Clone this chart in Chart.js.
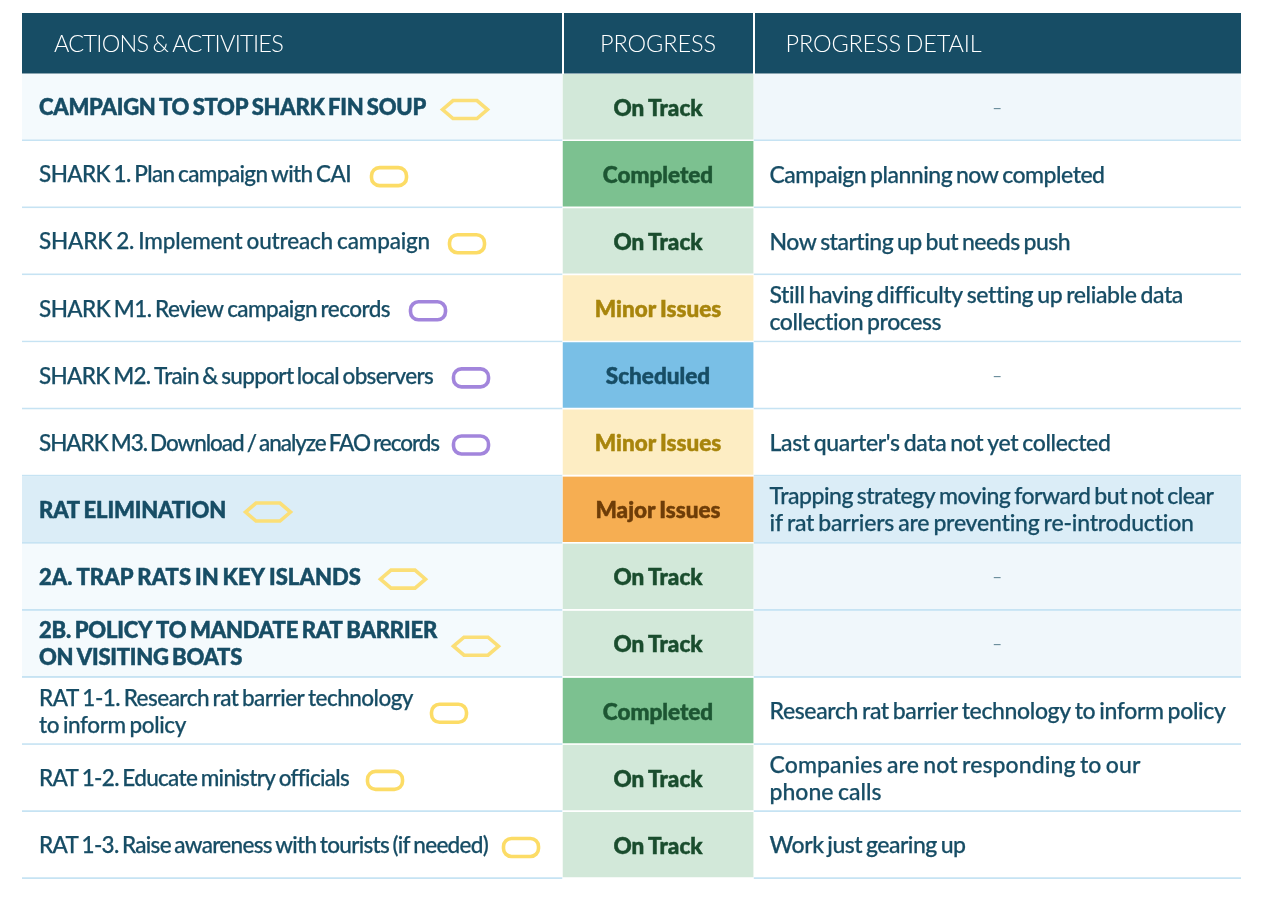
<!DOCTYPE html>
<html>
<head>
<meta charset="utf-8">
<script src="https://cdn.jsdelivr.net/npm/chart.js@4"></script>
<style>
    html, body { margin: 0; background: #fff; }
</style>
</head>
<body>
<canvas id="myChart" width="1261" height="897"></canvas>
<script>
const headers = ['ACTIONS & ACTIVITIES', 'PROGRESS', 'PROGRESS DETAIL'];

const actions = [
    'CAMPAIGN TO STOP SHARK FIN SOUP',
    'SHARK 1. Plan campaign with CAI',
    'SHARK 2. Implement outreach campaign',
    'SHARK M1. Review campaign records',
    'SHARK M2. Train & support local observers',
    'SHARK M3. Download / analyze FAO records',
    'RAT ELIMINATION',
    '2A. TRAP RATS IN KEY ISLANDS',
    '2B. POLICY TO MANDATE RAT BARRIER\nON VISITING BOATS',
    'RAT 1-1. Research rat barrier technology\nto inform policy',
    'RAT 1-2. Educate ministry officials',
    'RAT 1-3. Raise awareness with tourists (if needed)',
];
const progress = [
    'On Track', 'Completed', 'On Track', 'Minor Issues', 'Scheduled', 'Minor Issues',
    'Major Issues', 'On Track', 'On Track', 'Completed', 'On Track', 'On Track',
];
const details = [
    '–',
    'Campaign planning now completed',
    'Now starting up but needs push',
    'Still having difficulty setting up reliable data\ncollection process',
    '–',
    "Last quarter's data not yet collected",
    'Trapping strategy moving forward but not clear\nif rat barriers are preventing re-introduction',
    '–',
    '–',
    'Research rat barrier technology to inform policy',
    'Companies are not responding to our\nphone calls',
    'Work just gearing up',
];
const tags = [
    'hex', 'yellow', 'yellow', 'purple', 'purple', 'purple',
    'hex', 'hex', 'hex', 'yellow', 'yellow', 'yellow',
];
const headingRows = [0, 6, 7, 8];

// column edges in axis units
const columnEdges = [0, 540.5, 731.5, 1219];

// text widths as measured on the original, per line
const headerWidths = [229, 116, 196];
const actionWidths = [[387], [312], [391], [351], [394], [400], [187], [322], [398, 203], [374, 147], [309], [449]];
const detailWidths = [[], [335], [301], [412, 172], [], [341], [444, 425], [], [], [456], [371, 112], [196]];
const tagGaps = [15, 19, 18, 19, 19, 13, 18, 18, 15, 17, 18, 14];

const statusFill = {
    'On Track': '#d2e8d9',
    'Completed': '#7cc190',
    'Minor Issues': '#fdedc3',
    'Scheduled': '#79bfe6',
    'Major Issues': '#f6ae52',
};
const statusText = {
    'On Track': '#1a4d2e',
    'Completed': '#1d5633',
    'Minor Issues': '#a8850c',
    'Scheduled': '#174d65',
    'Major Issues': '#6e3d08',
};
const tagColors = { hex: '#fbdf77', yellow: '#fcdc66', purple: '#a285dc' };
const navy = '#174d65';
const ruleColor = '#c6e3f3';

function rowFill(i, col) {
    if (i === 6) return '#dbedf7';
    if (headingRows.includes(i)) return col === 2 ? '#f0f7fb' : '#f4fafd';
    return '#ffffff';
}

function column(col) {
    return actions.map(() => [columnEdges[col], columnEdges[col + 1]]);
}

// draws one line squeezed to the measured width, with a thin stroke for weight
function putText(c, str, x, y, font, color, align, width, heft) {
    c.font = font;
    c.fillStyle = color;
    c.strokeStyle = color;
    c.textAlign = align;
    c.textBaseline = 'middle';
    c.wordSpacing = '-1.5px';
    c.letterSpacing = '0px';
    if (width) {
        const natural = c.measureText(str).width;
        c.letterSpacing = ((width - natural) / str.length) + 'px';
    }
    c.fillText(str, x, y);
    if (heft) {
        c.lineWidth = heft;
        c.strokeText(str, x, y);
    }
}

function drawTag(c, kind, x, y) {
    c.strokeStyle = tagColors[kind];
    c.lineWidth = 3.6;
    c.beginPath();
    if (kind === 'hex') {
        c.lineJoin = 'miter';
        c.moveTo(x + 1.5, y);
        c.lineTo(x + 12, y - 9);
        c.lineTo(x + 36, y - 9);
        c.lineTo(x + 46.5, y);
        c.lineTo(x + 36, y + 9);
        c.lineTo(x + 12, y + 9);
        c.closePath();
    } else {
        c.roundRect(x + 1.5, y - 9, 35, 18, 8);
    }
    c.stroke();
}

const tablePlugin = {
    id: 'tableText',
    afterDatasetsDraw(chart) {
        const c = chart.ctx;
        const xs = chart.scales.x;
        const ys = chart.scales.y;
        const area = chart.chartArea;
        const lineGap = 27;
        const midProgress = xs.getPixelForValue((columnEdges[1] + columnEdges[2]) / 2);
        const detailLeft = xs.getPixelForValue(columnEdges[2]) + 16;
        c.save();

        // header band
        c.fillStyle = navy;
        c.fillRect(area.left, 13, area.right - area.left, area.top - 13 - 0.5);
        c.fillStyle = '#ffffff';
        c.fillRect(xs.getPixelForValue(columnEdges[1]) - 0.5, 13, 2, area.top - 13);
        c.fillRect(xs.getPixelForValue(columnEdges[2]) - 0.5, 13, 2, area.top - 13);
        const headFont = '300 23.5px Lato';
        putText(c, headers[0], xs.getPixelForValue(columnEdges[0]) + 32, 44, headFont, '#ffffff', 'left', headerWidths[0]);
        putText(c, headers[1], midProgress, 44, headFont, '#ffffff', 'center', headerWidths[1]);
        putText(c, headers[2], detailLeft + 16, 44, headFont, '#ffffff', 'left', headerWidths[2]);

        actions.forEach((label, i) => {
            const y = ys.getPixelForValue(i) + 0.5;
            const heading = headingRows.includes(i);
            const font = heading ? '900 22px Lato' : '500 22.5px Lato';
            const left = xs.getPixelForValue(columnEdges[0]) + 17;

            const lines = label.split('\n');
            lines.forEach((line, n) => {
                const ly = y + (n - (lines.length - 1) / 2) * lineGap;
                putText(c, line, left, ly, font, navy, 'left', actionWidths[i][n], heading ? 0.5 : 0.25);
            });
            drawTag(c, tags[i], left + actionWidths[i][0] + tagGaps[i], y + 1.5);

            putText(c, progress[i], midProgress, y + 0.5, '900 22.5px Lato', statusText[progress[i]], 'center', 0, 0.5);

            if (details[i] === '–') {
                putText(c, details[i], xs.getPixelForValue((columnEdges[2] + columnEdges[3]) / 2), y,
                    '400 17px Lato', '#6d8f9d', 'center', 0);
            } else {
                const dl = details[i].split('\n');
                dl.forEach((line, n) => {
                    const ly = y + (n - (dl.length - 1) / 2) * lineGap;
                    putText(c, line, detailLeft, ly, '500 23px Lato', navy, 'left', detailWidths[i][n], 0.25);
                });
            }
        });
        c.restore();
    }
};

new Chart(document.getElementById('myChart'), {
    type: 'bar',
    plugins: [tablePlugin],
    data: {
        labels: actions,
        datasets: [
            {
                data: column(0),
                backgroundColor: actions.map((a, i) => rowFill(i, 0)),
                borderColor: ruleColor,
                borderWidth: { bottom: 2 },
                borderSkipped: false,
            },
            {
                data: column(1),
                backgroundColor: progress.map(p => statusFill[p]),
                borderColor: '#ffffff',
                borderWidth: { bottom: 2 },
                borderSkipped: false,
            },
            {
                data: column(2),
                backgroundColor: actions.map((a, i) => rowFill(i, 2)),
                borderColor: ruleColor,
                borderWidth: { bottom: 2 },
                borderSkipped: false,
            },
        ]
    },
    options: {
        indexAxis: 'y',
        responsive: false,
        animation: false,
        layout: {
            padding: { left: 22, right: 20, top: 74, bottom: 18 }
        },
        plugins: {
            legend: { display: false },
            tooltip: { enabled: false }
        },
        datasets: {
            bar: { barPercentage: 1, categoryPercentage: 1, grouped: false }
        },
        scales: {
            x: { display: false, min: columnEdges[0], max: columnEdges[3] },
            y: { display: false }
        }
    }
});
</script>
</body>
</html>
